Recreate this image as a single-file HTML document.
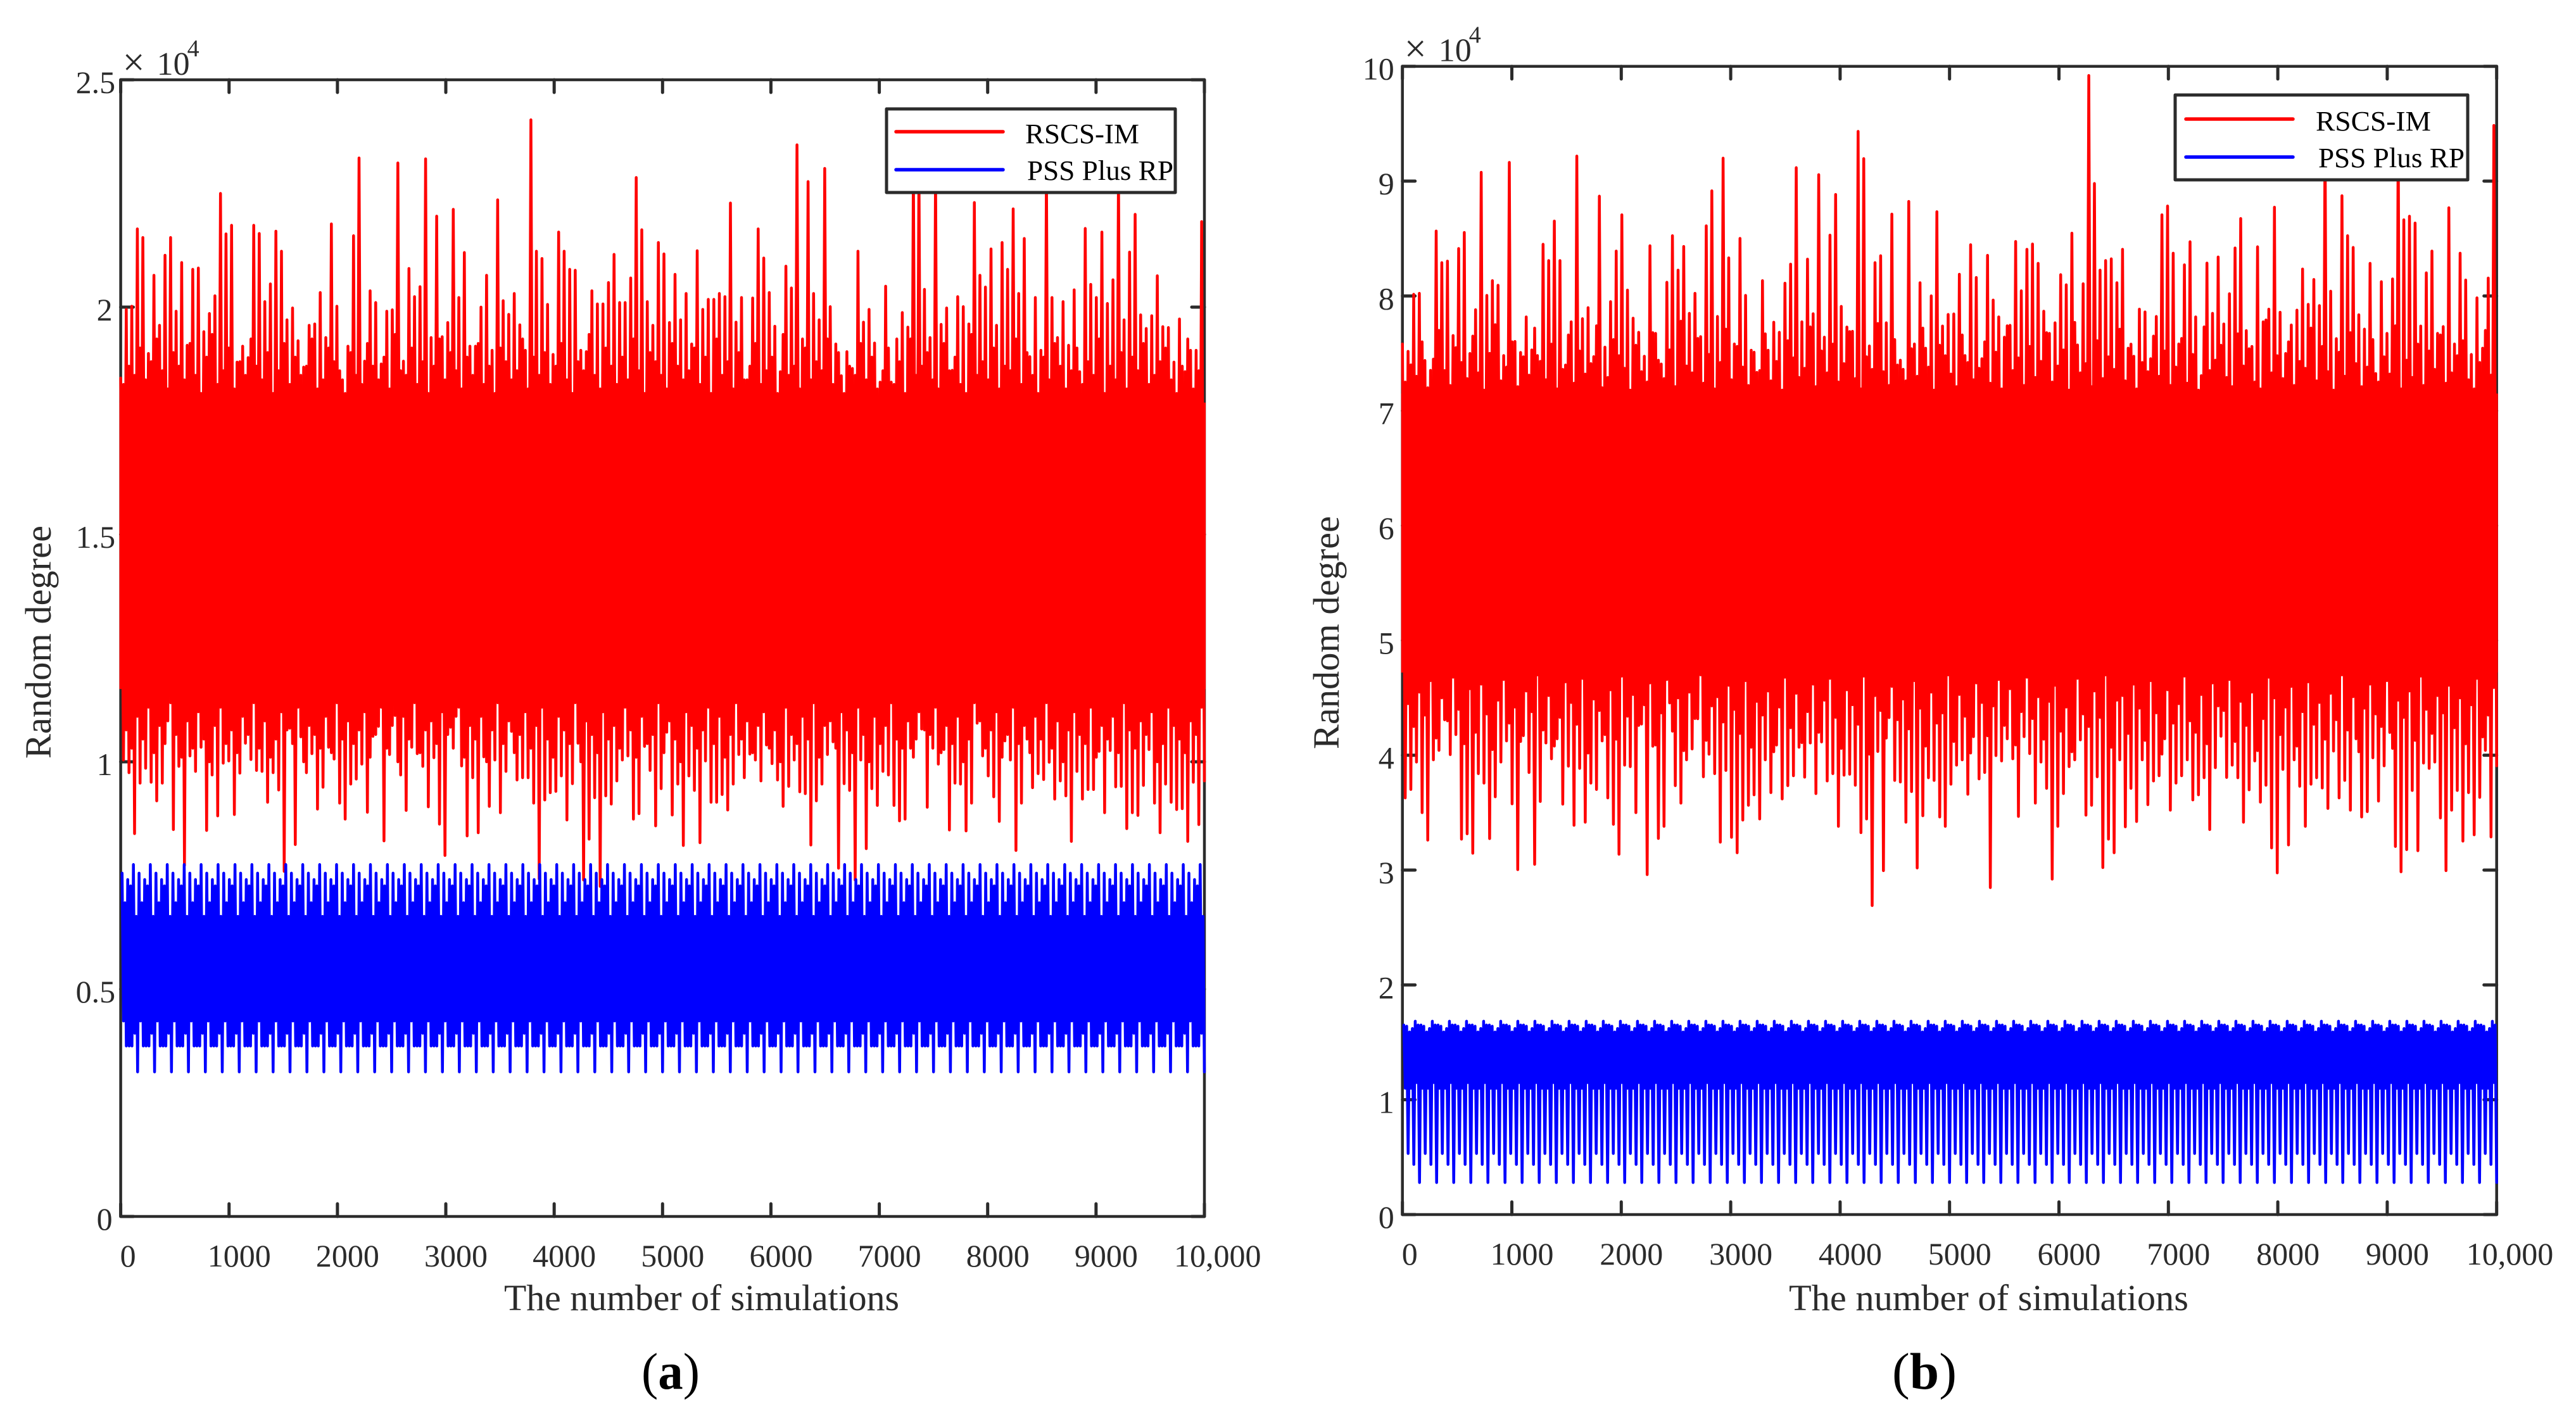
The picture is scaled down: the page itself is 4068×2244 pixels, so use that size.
<!DOCTYPE html>
<html lang="en">
<head>
<meta charset="utf-8">
<title>Random degree comparison of RSCS-IM and PSS Plus RP</title>
<style>
html,body{margin:0;padding:0;background:#fff;width:4068px;height:2244px;overflow:hidden}
svg{display:block}
text{font-family:"Liberation Serif",serif}
.t{fill:#2b2b2b}
.l{fill:#000;font-size:44px}
.box{fill:#fff;stroke:#2b2b2b;stroke-width:5;stroke-linejoin:round}
</style>
</head>
<body>
<svg id="figure" xmlns="http://www.w3.org/2000/svg" width="4068" height="2244" viewBox="0 0 4068 2244">
  <g id="chart-a"></g>
  <g id="chart-b"></g>

  <g>
    <rect class="box" x="1400" y="172" width="456" height="132"/>
    <line x1="1415" y1="208" x2="1584" y2="208" stroke="#ff0000" stroke-width="5.5" stroke-linecap="round"/>
    <text class="l" x="1619" y="226" textLength="180" lengthAdjust="spacingAndGlyphs">RSCS-IM</text>
    <line x1="1415" y1="268" x2="1584" y2="268" stroke="#0000ff" stroke-width="5.5" stroke-linecap="round"/>
    <text class="l" x="1622" y="284" textLength="231" lengthAdjust="spacingAndGlyphs">PSS Plus RP</text>
  </g>
  <g>
    <rect class="box" x="3435" y="150" width="462" height="134"/>
    <line x1="3452" y1="188" x2="3621" y2="188" stroke="#ff0000" stroke-width="5.5" stroke-linecap="round"/>
    <text class="l" x="3657" y="206" textLength="182" lengthAdjust="spacingAndGlyphs">RSCS-IM</text>
    <line x1="3452" y1="248" x2="3621" y2="248" stroke="#0000ff" stroke-width="5.5" stroke-linecap="round"/>
    <text class="l" x="3661" y="264" textLength="231" lengthAdjust="spacingAndGlyphs">PSS Plus RP</text>
  </g>

  <text class="t" x="796" y="2069" font-size="58" textLength="624" lengthAdjust="spacingAndGlyphs">The number of simulations</text>
  <text class="t" x="2825" y="2069" font-size="58" textLength="631" lengthAdjust="spacingAndGlyphs">The number of simulations</text>
  <text class="t" transform="translate(80 1198) rotate(-90)" font-size="58" textLength="368" lengthAdjust="spacingAndGlyphs">Random degree</text>
  <text class="t" transform="translate(2114 1183) rotate(-90)" font-size="58" textLength="368" lengthAdjust="spacingAndGlyphs">Random degree</text>

  <text x="1013" y="2193" font-size="82" fill="#000" textLength="92" lengthAdjust="spacingAndGlyphs">(<tspan font-weight="bold">a</tspan>)</text>
  <text x="2988" y="2193" font-size="82" fill="#000" textLength="102" lengthAdjust="spacingAndGlyphs">(<tspan font-weight="bold">b</tspan>)</text>
</svg>

<script>
// x axis, shared by both panels
const xTicks = [0, 1000, 2000, 3000, 4000, 5000, 6000, 7000, 8000, 9000, 10000];
const xTickLabels = ["0", "1000", "2000", "3000", "4000", "5000", "6000", "7000", "8000", "9000", "10,000"];

// panel (a), values in units of 10^4
const yTicksA = [0, 0.5, 1, 1.5, 2, 2.5];
const yTickLabelsA = ["0", "0.5", "1", "1.5", "2", "2.5"];
const redBandA = [1.16, 1.79];
const redHighA = [1.844,1.995,2.002,2.172,2.153,1.898,2.07,1.96,2.114,2.153,1.991,2.098,1.916,2.083,2.086,1.946,1.986,2.025,2.25,2.161,2.18,1.879,1.914,1.889,2.18,2.162,2.012,2.051,2.167,2.123,1.972,1.998,1.926,1.868,1.96,1.963,2.032,1.933,2.183,2.002,1.84,1.914,2.157,2.328,1.881,2.036,2.01,1.875,1.991,1.994,2.317,1.881,2.085,2.023,2.045,2.326,1.933,2.2,1.935,1.966,2.215,2.021,2.12,1.914,1.914,2.0,2.07,1.905,2.236,2.014,1.984,2.03,1.961,1.905,2.412,2.123,2.107,2.006,1.896,2.165,2.123,2.083,2.081,1.905,1.902,2.036,2.007,2.007,2.054,2.116,2.01,2.01,2.064,2.285,2.17,2.012,1.96,2.142,2.117,1.966,2.072,1.972,2.03,1.919,2.124,1.995,2.017,2.017,2.03,2.023,2.229,1.967,2.021,1.84,2.02,2.172,2.108,2.032,1.958,1.858,2.09,2.042,2.357,1.93,2.276,2.03,1.972,2.305,2.001,1.919,1.849,1.902,1.865,2.123,1.967,1.995,1.921,1.835,2.046,1.835,1.93,1.988,1.956,2.3,2.3,2.039,1.933,2.3,1.962,1.998,1.861,2.023,2.001,1.963,2.23,2.07,2.044,2.128,1.96,2.142,2.083,2.216,2.03,2.151,1.891,2.021,1.905,2.3,2.021,1.933,2.012,1.916,2.038,1.858,2.173,2.05,2.021,2.165,2.008,2.06,2.3,1.972,2.121,2.204,1.983,1.953,1.981,2.069,1.957,1.955,1.879,1.974,1.858,1.905,1.905,2.188];
const redLowA = [1.004,.976,.842,.953,.986,.955,.914,.953,1.09,.851,.99,.772,1.013,.979,1.032,.849,.971,.881,.997,1.002,.884,.975,1.041,1.005,.981,.979,.911,.976,.938,.759,1.074,.818,1.055,.976,1.018,.896,.944,1.032,1.006,.909,.874,.951,.962,.995,.889,1.056,1.078,.826,1.016,1.102,.971,.893,1.032,1.018,.99,.901,1.009,.863,.794,1.076,1.1,.991,.837,.965,.844,1.011,.902,1.004,.888,.979,1.067,.96,.965,.965,.909,.742,.916,.932,.935,.969,.872,.952,1.041,.74,.83,.921,.726,.925,.907,.958,1.004,1.013,.874,.886,1.034,.981,.859,.941,1.065,.883,.951,.816,.969,.937,.822,1.002,.911,.911,.928,.894,.951,1.016,.965,1.017,1.004,.958,1.037,.996,.96,.902,.946,1.004,.934,.93,.817,.914,.951,1.016,1.044,.766,.952,.937,.74,1.004,.809,.941,.904,.979,.971,.904,.87,.874,1.03,1.05,1.072,.9,1.03,.995,1.027,.85,.953,.951,.848,.909,1.085,1.013,.969,.923,.869,1.046,1.004,.805,.909,1.05,.943,.974,.961,.999,.918,.958,.925,.825,.979,.918,.939,.939,1.023,.888,1.025,.945,.946,.853,.888,.882,.948,1.027,.909,.844,.951,.911,.895,.897,.825,.955,.862,.958];
// shorter secondary spikes close to the solid core
const redFringeHighA = [1.83,1.87,1.85,1.91,1.84,1.88,1.93,1.86,1.82,1.9,1.87,1.84,1.92,1.85,1.81,1.89,1.94,1.83,1.86,1.91,1.82,1.88,1.85,1.93,1.87,1.84,1.9,1.81,1.86,1.92,1.83,1.89,1.85,1.87,1.93,1.82,1.84,1.91,1.88,1.86,1.81,1.9,1.85,1.83,1.92,1.87,1.84,1.89,1.82,1.94,1.86,1.85,1.91,1.83,1.88,1.81,1.87,1.93,1.84,1.9,1.86,1.82,1.89,1.85,1.92,1.83,1.87,1.81,1.91,1.88,1.84,1.86,1.93,1.82,1.89,1.85,1.9,1.83,1.87,1.92,1.84,1.81,1.88,1.86,1.94,1.85,1.82,1.91,1.87,1.83,1.89,1.84,1.93,1.86,1.81,1.9,1.88,1.85,1.82,1.92,1.87,1.84,1.86,1.91,1.83,1.89,1.81,1.93,1.85,1.88,1.82,1.9,1.84,1.87,1.92,1.83,1.86,1.89,1.81,1.94,1.85,1.87,1.82,1.91,1.84,1.88,1.86,1.93,1.83,1.9,1.81,1.87,1.85,1.92,1.84,1.89,1.82,1.86,1.91,1.83,1.88,1.81,1.93,1.85,1.87,1.9,1.84,1.82,1.92,1.86,1.89,1.83,1.81,1.94,1.85,1.88,1.84,1.91,1.82,1.87,1.86,1.93,1.83,1.9,1.85,1.81,1.89,1.84,1.92,1.87,1.82,1.86,1.91,1.83,1.88,1.85,1.93,1.81,1.87,1.84,1.9,1.82,1.89,1.86,1.92,1.83,1.85,1.88,1.91,1.84,1.81,1.87,1.93,1.82,1.86,1.89,1.84,1.91,1.83,1.87,1.82,1.9,1.85,1.88,1.81,1.92];
const redFringeLowA = [1.07,1.03,1.1,1.05,1.12,1.02,1.08,1.04,1.13,1.06,1.01,1.09,1.03,1.11,1.05,1.0,1.08,1.12,1.04,1.07,1.02,1.1,1.06,1.13,1.03,1.09,1.01,1.05,1.11,1.07,1.04,1.12,1.0,1.08,1.06,1.03,1.1,1.02,1.13,1.05,1.09,1.04,1.07,1.11,1.01,1.06,1.12,1.03,1.08,1.0,1.1,1.05,1.13,1.02,1.07,1.09,1.04,1.11,1.06,1.03,1.12,1.01,1.08,1.05,1.1,1.0,1.07,1.13,1.04,1.09,1.02,1.06,1.11,1.03,1.08,1.12,1.05,1.01,1.1,1.07,1.04,1.13,1.0,1.09,1.06,1.02,1.11,1.05,1.08,1.03,1.12,1.07,1.01,1.1,1.04,1.06,1.13,1.02,1.09,1.05,1.0,1.11,1.08,1.03,1.07,1.12,1.04,1.1,1.01,1.06,1.13,1.05,1.09,1.02,1.08,1.11,1.03,1.07,1.0,1.12,1.06,1.04,1.1,1.05,1.13,1.01,1.08,1.09,1.03,1.11,1.07,1.02,1.12,1.06,1.0,1.1,1.04,1.08,1.13,1.05,1.03,1.09,1.01,1.11,1.07,1.06,1.12,1.02,1.08,1.04,1.1,1.0,1.05,1.13,1.09,1.03,1.07,1.11,1.01,1.06,1.12,1.04,1.08,1.02,1.1,1.05,1.13,1.03,1.09,1.0,1.07,1.11,1.06,1.04,1.12,1.01,1.08,1.05,1.1,1.02,1.13,1.07,1.03,1.09,1.06,1.11,1.0,1.04,1.12,1.08,1.05,1.02,1.09,1.06,1.12,1.03,1.1,1.01,1.07,1.13,1.04,1.08];
const blueCycleA = [.755,.43,.69,.375,.741,.375,.727,.375,.774,.403,.66,.318];

// panel (b), values in units of 10^4
const yTicksB = [0, 1, 2, 3, 4, 5, 6, 7, 8, 9, 10];
const yTickLabelsB = ["0", "1", "2", "3", "4", "5", "6", "7", "8", "9", "10"];
const redBandB = [4.72, 7.15];
const redHighB = [7.582,7.517,8.014,8.023,7.438,7.352,8.565,8.29,8.303,7.655,8.413,8.553,7.499,7.88,9.077,8.005,8.133,8.093,7.481,9.163,7.604,7.508,7.817,7.53,7.481,8.45,8.308,8.652,8.308,7.398,7.775,9.218,7.802,7.898,7.471,8.869,7.554,7.95,8.391,8.707,8.051,7.806,7.683,7.475,8.437,7.674,7.407,8.119,8.525,8.225,8.431,7.848,8.023,7.646,8.611,8.915,7.821,9.2,8.332,7.582,8.501,8.005,7.527,7.334,8.133,7.527,7.771,7.683,8.111,8.277,9.117,7.775,8.321,7.845,9.056,7.641,8.529,8.884,7.909,7.729,7.692,9.433,9.196,7.564,8.29,8.35,7.766,8.713,7.398,7.361,8.823,7.582,8.115,7.545,8.001,8.733,7.738,7.839,7.843,8.189,7.481,8.446,8.161,7.453,8.354,7.964,7.817,7.641,7.744,8.474,8.045,8.406,8.452,8.284,7.867,7.674,7.766,8.185,8.097,8.547,7.573,8.106,9.92,8.979,8.225,8.308,8.323,8.115,8.406,7.545,7.475,7.885,7.861,7.453,7.821,8.707,8.783,8.372,7.582,8.271,8.472,7.817,7.306,8.286,7.848,8.339,7.756,8.019,8.418,8.674,7.698,7.56,8.428,7.775,7.885,8.773,7.858,7.499,7.747,7.876,8.234,7.927,8.143,7.916,9.42,8.041,7.628,8.873,8.525,8.422,7.836,7.711,8.284,7.324,8.124,7.674,8.148,9.42,8.663,8.694,8.635,7.738,8.201,8.391,7.674,7.733,8.768,7.582,8.372,8.139,7.49,7.983,7.545,8.156,9.485];
const redLowB = [3.629,3.702,3.941,3.5,3.261,3.96,4.043,4.309,4.006,4.18,3.27,3.316,3.147,3.84,3.758,3.274,3.638,3.941,4.125,3.577,3.004,4.171,3.85,3.05,3.598,4.107,3.969,4.144,3.574,3.905,3.39,3.886,3.417,3.758,3.702,4.125,3.629,3.399,3.138,3.914,3.901,3.5,4.272,2.961,4.079,3.276,3.381,4.456,3.736,3.583,3.96,4.055,4.318,3.813,4.009,3.84,3.243,3.868,3.285,3.151,3.436,3.565,3.656,3.445,3.96,3.675,4.089,3.62,3.736,3.822,4.07,3.809,4.107,3.666,4.116,3.776,3.84,3.381,3.827,3.835,3.739,3.326,3.445,2.691,4.033,2.995,4.328,3.781,3.767,3.417,3.684,3.019,3.473,3.804,3.781,3.463,3.381,3.748,3.914,3.96,3.66,4.162,3.794,3.85,2.848,3.997,3.951,4.144,3.969,3.467,4.162,4.015,3.583,3.941,3.712,2.921,3.381,3.666,3.901,3.96,4.134,3.478,3.565,3.813,3.022,3.27,3.151,3.96,3.377,3.712,3.423,3.96,3.57,3.776,3.822,4.144,3.522,3.758,3.822,3.96,3.611,3.656,3.804,3.353,3.892,4.166,3.807,3.914,3.804,3.417,3.699,3.951,3.592,3.739,3.193,2.976,3.877,3.219,3.96,3.73,3.381,3.748,3.804,3.715,3.537,4.037,3.629,3.781,3.522,4.144,3.463,3.509,3.978,3.601,3.908,4.199,3.206,2.985,3.178,3.693,3.169,3.932,3.886,3.941,3.454,2.995,3.522,3.693,3.252,3.675,3.307,3.633,4.043,3.289,3.908];
// shorter secondary spikes close to the solid core
const redFringeHighB = [7.25,7.4,7.3,7.6,7.2,7.45,7.7,7.35,7.22,7.55,7.42,7.28,7.65,7.33,7.18,7.5,7.75,7.26,7.38,7.6,7.21,7.47,7.31,7.72,7.43,7.27,7.58,7.19,7.36,7.66,7.24,7.52,7.32,7.41,7.74,7.2,7.29,7.62,7.48,7.37,7.18,7.57,7.34,7.25,7.68,7.44,7.28,7.53,7.21,7.78,7.39,7.33,7.63,7.24,7.49,7.19,7.42,7.71,7.27,7.56,7.38,7.22,7.51,7.35,7.67,7.26,7.43,7.18,7.61,7.46,7.29,7.37,7.73,7.21,7.52,7.33,7.58,7.25,7.41,7.69,7.28,7.19,7.47,7.36,7.76,7.34,7.22,7.62,7.44,7.26,7.54,7.3,7.72,7.38,7.18,7.57,7.48,7.32,7.21,7.66,7.42,7.27,7.37,7.6,7.24,7.51,7.19,7.74,7.35,7.46,7.22,7.56,7.29,7.43,7.68,7.25,7.39,7.53,7.18,7.77,7.33,7.41,7.21,7.61,7.28,7.47,7.36,7.71,7.26,7.58,7.19,7.42,7.34,7.65,7.3,7.52,7.22,7.38,7.63,7.24,7.49,7.18,7.73,7.35,7.44,7.57,7.29,7.21,7.67,7.39,7.54,7.25,7.19,7.79,7.33,7.48,7.28,7.6,7.22,7.43,7.37,7.72,7.26,7.56,7.34,7.18,7.51,7.3,7.68,7.41,7.21,7.38,7.62,7.25,7.47,7.32,7.74,7.19,7.44,7.29,7.58,7.22,7.52,7.36,7.66,7.24,7.33,7.48,7.61,7.27,7.19,7.42,7.7,7.31,7.55,7.23,7.46,7.64,7.2,7.38,7.5,7.28,7.69,7.35,7.22];
const redFringeLowB = [4.45,4.25,4.55,4.35,4.65,4.15,4.5,4.3,4.68,4.4,4.1,4.58,4.2,4.62,4.36,4.05,4.48,4.66,4.28,4.42,4.12,4.56,4.38,4.7,4.22,4.52,4.08,4.33,4.64,4.46,4.27,4.67,4.02,4.49,4.39,4.18,4.57,4.14,4.69,4.34,4.53,4.26,4.44,4.63,4.09,4.37,4.66,4.21,4.5,4.04,4.55,4.32,4.7,4.13,4.43,4.51,4.29,4.61,4.4,4.19,4.65,4.07,4.47,4.35,4.56,4.03,4.42,4.68,4.24,4.54,4.11,4.38,4.62,4.2,4.48,4.67,4.33,4.06,4.57,4.44,4.27,4.69,4.01,4.52,4.39,4.15,4.6,4.31,4.49,4.23,4.65,4.41,4.08,4.55,4.28,4.37,4.7,4.12,4.53,4.34,4.02,4.63,4.46,4.17,4.43,4.66,4.26,4.58,4.09,4.38,4.68,4.32,4.51,4.14,4.47,4.61,4.21,4.42,4.03,4.67,4.36,4.25,4.56,4.33,4.7,4.07,4.48,4.52,4.19,4.62,4.41,4.13,4.65,4.37,4.01,4.57,4.28,4.45,4.69,4.3,4.2,4.53,4.1,4.63,4.43,4.39,4.66,4.12,4.47,4.26,4.55,4.04,4.32,4.68,4.5,4.18,4.42,4.6,4.08,4.38,4.64,4.27,4.46,4.14,4.54,4.31,4.7,4.22,4.51,4.03,4.41,4.62,4.36,4.25,4.65,4.06,4.48,4.33,4.56,4.13,4.69,4.4,4.19,4.52,4.37,4.61,4.24,4.5,4.1,4.44,4.67,4.16,4.35,4.59,4.05,4.46,4.29,4.63,4.21,4.54,4.08];
const blueCycleB = [1.65,1.10,1.64,.532,1.59,1.10,1.62,.437,1.683,1.15,1.65,.279];

// the blue trace repeats this many times across the run
const blueRepeats = 64;

const SVG_NS = 'http://www.w3.org/2000/svg';
const INK = '#2b2b2b';

function make(parent, tag, attrs, content) {
  const el = document.createElementNS(SVG_NS, tag);
  for (const key in attrs) el.setAttribute(key, attrs[key]);
  if (content !== undefined) el.textContent = content;
  parent.appendChild(el);
  return el;
}

function drawChart(opts) {
  const root = document.getElementById(opts.id);
  const xScale = v => opts.left + (v / 10000) * (opts.right - opts.left);
  const yScale = v => opts.bottom - (v / opts.yMax) * (opts.bottom - opts.top);

  // tick labels
  xTicks.forEach((tick, i) => {
    let shift = -34;
    if (i === 0) shift = -1;
    if (i === xTicks.length - 1) shift = -48;
    const label = make(root, 'text', {x: xScale(tick) + shift, y: opts.xLabelY, 'font-size': 50, class: 't'}, xTickLabels[i]);
    
    
  });
  opts.yTicks.forEach((tick, i) => {
    const text = opts.yTickLabels[i];
    const gap = text.indexOf('.') >= 0 ? opts.decimalGap : opts.integerGap;
    const label = make(root, 'text', {x: opts.left - gap, y: yScale(tick) + 21, 'font-size': 50, class: 't', 'text-anchor': 'end'}, text);
    
    
  });

  // multiplier
  const multiplier = make(root, 'g', {});
  
  
  make(multiplier, 'text', {x: opts.left + 3, y: opts.top - 7, 'font-size': 62, class: 't'}, '×');
  make(multiplier, 'text', {x: opts.left + 57, y: opts.top - 8, 'font-size': 52, class: 't'}, '10');
  make(multiplier, 'text', {x: opts.left + 105, y: opts.top - 37, 'font-size': 38, class: 't'}, '4');

  // axes box and ticks
  const tickPath = [];
  xTicks.forEach(tick => {
    const x = xScale(tick);
    tickPath.push('M' + x + ' ' + opts.bottom + 'V' + (opts.bottom - 20));
    tickPath.push('M' + x + ' ' + opts.top + 'V' + (opts.top + 20));
  });
  opts.yTicks.forEach(tick => {
    const y = yScale(tick);
    tickPath.push('M' + opts.left + ' ' + y + 'H' + (opts.left + 20));
    tickPath.push('M' + opts.right + ' ' + y + 'H' + (opts.right - 20));
  });
  const ticks = make(root, 'path', {d: tickPath.join(''), fill: 'none', stroke: INK, 'stroke-width': 5, 'stroke-linecap': 'round'});
  
  
  const frame = make(root, 'rect', {x: opts.left, y: opts.top, width: opts.right - opts.left, height: opts.bottom - opts.top, fill: 'none', stroke: INK, 'stroke-width': 4.5, 'stroke-linejoin': 'round'});
  
  

  // red series: solid core plus the spikes above and below it
  const band = make(root, 'rect', {
    x: xScale(0) - 2, width: xScale(10000) - xScale(0) + 4,
    y: yScale(opts.redBand[1]), height: yScale(opts.redBand[0]) - yScale(opts.redBand[1]),
    fill: '#ff0000'
  });
  
  

  const count = Math.min(opts.redHigh.length, opts.redLow.length);
  const step = 10000 / (count - 0.5);
  const fringeCount = Math.min(opts.redFringeHigh.length, opts.redFringeLow.length, count - 1);
  const fringePoints = [];
  for (let k = 0; k < fringeCount; k++) {
    fringePoints.push(xScale((k + 0.5) * step).toFixed(1) + ',' + yScale(opts.redFringeHigh[k]).toFixed(1));
    fringePoints.push(xScale((k + 1) * step).toFixed(1) + ',' + yScale(opts.redFringeLow[k]).toFixed(1));
  }
  const fringeLine = make(root, 'polyline', {points: fringePoints.join(' '), fill: 'none', stroke: '#ff0000', 'stroke-width': 4.5, 'stroke-linejoin': 'round', 'stroke-linecap': 'round'});
  
  

  const redPoints = [];
  for (let k = 0; k < count; k++) {
    redPoints.push(xScale(k * step).toFixed(1) + ',' + yScale(opts.redHigh[k]).toFixed(1));
    redPoints.push(xScale((k + 0.5) * step).toFixed(1) + ',' + yScale(opts.redLow[k]).toFixed(1));
  }
  const redLine = make(root, 'polyline', {points: redPoints.join(' '), fill: 'none', stroke: '#ff0000', 'stroke-width': 4.5, 'stroke-linejoin': 'round', 'stroke-linecap': 'round'});
  
  

  // blue series
  const total = blueRepeats * opts.blueCycle.length;
  const dx = 10000 / total;
  const bluePoints = [];
  for (let j = 0; j < total; j++) {
    const value = opts.blueCycle[j % opts.blueCycle.length];
    bluePoints.push(xScale((j + 1) * dx).toFixed(1) + ',' + yScale(value).toFixed(1));
  }
  const blueLine = make(root, 'polyline', {points: bluePoints.join(' '), fill: 'none', stroke: '#0000ff', 'stroke-width': 4.5, 'stroke-linejoin': 'round', 'stroke-linecap': 'round'});
  
  
}

drawChart({
  id: 'chart-a', left: 190.6, right: 1902, top: 126, bottom: 1921, yMax: 2.5,
  xLabelY: 2000, decimalGap: 8.5, integerGap: 13,
  yTicks: yTicksA, yTickLabels: yTickLabelsA,
  redBand: redBandA, redHigh: redHighA, redLow: redLowA,
  redFringeHigh: redFringeHighA, redFringeLow: redFringeLowA, blueCycle: blueCycleA
});
drawChart({
  id: 'chart-b', left: 2214.7, right: 3942.7, top: 104.7, bottom: 1918, yMax: 10,
  xLabelY: 1997, decimalGap: 8.5, integerGap: 13,
  yTicks: yTicksB, yTickLabels: yTickLabelsB,
  redBand: redBandB, redHigh: redHighB, redLow: redLowB,
  redFringeHigh: redFringeHighB, redFringeLow: redFringeLowB, blueCycle: blueCycleB
});
</script>
</body>
</html>
